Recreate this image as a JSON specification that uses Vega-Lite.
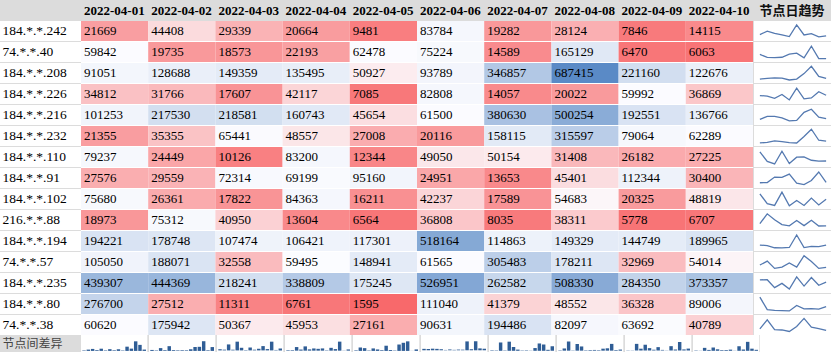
{
"$schema":"https://vega.github.io/schema/vega-lite/v6.json",
"background":"#dcdcdc",
"padding":0,
"spacing":0,
"config":{"view":{"stroke":null},"axis":{"disable":true},"legend":{"disable":true},"concat":{"spacing":0}},
"datasets":{
"captions":[{"part":"trend","label":"节点日趋势"},{"part":"gap","label":"节点间差异"}],
"cells":[
{"node":"184.*.*.242","date":"2022-04-01","value":21669},{"node":"184.*.*.242","date":"2022-04-02","value":44408},{"node":"184.*.*.242","date":"2022-04-03","value":29339},{"node":"184.*.*.242","date":"2022-04-04","value":20664},{"node":"184.*.*.242","date":"2022-04-05","value":9481},{"node":"184.*.*.242","date":"2022-04-06","value":83784},{"node":"184.*.*.242","date":"2022-04-07","value":19282},{"node":"184.*.*.242","date":"2022-04-08","value":28124},{"node":"184.*.*.242","date":"2022-04-09","value":7846},{"node":"184.*.*.242","date":"2022-04-10","value":14115},
{"node":"74.*.*.40","date":"2022-04-01","value":59842},{"node":"74.*.*.40","date":"2022-04-02","value":19735},{"node":"74.*.*.40","date":"2022-04-03","value":18573},{"node":"74.*.*.40","date":"2022-04-04","value":22193},{"node":"74.*.*.40","date":"2022-04-05","value":62478},{"node":"74.*.*.40","date":"2022-04-06","value":75224},{"node":"74.*.*.40","date":"2022-04-07","value":14589},{"node":"74.*.*.40","date":"2022-04-08","value":165129},{"node":"74.*.*.40","date":"2022-04-09","value":6470},{"node":"74.*.*.40","date":"2022-04-10","value":6063},
{"node":"184.*.*.208","date":"2022-04-01","value":91051},{"node":"184.*.*.208","date":"2022-04-02","value":128688},{"node":"184.*.*.208","date":"2022-04-03","value":149359},{"node":"184.*.*.208","date":"2022-04-04","value":135495},{"node":"184.*.*.208","date":"2022-04-05","value":50927},{"node":"184.*.*.208","date":"2022-04-06","value":93789},{"node":"184.*.*.208","date":"2022-04-07","value":346857},{"node":"184.*.*.208","date":"2022-04-08","value":687415},{"node":"184.*.*.208","date":"2022-04-09","value":221160},{"node":"184.*.*.208","date":"2022-04-10","value":122676},
{"node":"184.*.*.226","date":"2022-04-01","value":34812},{"node":"184.*.*.226","date":"2022-04-02","value":31766},{"node":"184.*.*.226","date":"2022-04-03","value":17607},{"node":"184.*.*.226","date":"2022-04-04","value":42117},{"node":"184.*.*.226","date":"2022-04-05","value":7085},{"node":"184.*.*.226","date":"2022-04-06","value":82808},{"node":"184.*.*.226","date":"2022-04-07","value":14057},{"node":"184.*.*.226","date":"2022-04-08","value":20022},{"node":"184.*.*.226","date":"2022-04-09","value":59992},{"node":"184.*.*.226","date":"2022-04-10","value":36869},
{"node":"184.*.*.216","date":"2022-04-01","value":101253},{"node":"184.*.*.216","date":"2022-04-02","value":217530},{"node":"184.*.*.216","date":"2022-04-03","value":218581},{"node":"184.*.*.216","date":"2022-04-04","value":160743},{"node":"184.*.*.216","date":"2022-04-05","value":45654},{"node":"184.*.*.216","date":"2022-04-06","value":61500},{"node":"184.*.*.216","date":"2022-04-07","value":380630},{"node":"184.*.*.216","date":"2022-04-08","value":500254},{"node":"184.*.*.216","date":"2022-04-09","value":192551},{"node":"184.*.*.216","date":"2022-04-10","value":136766},
{"node":"184.*.*.232","date":"2022-04-01","value":21355},{"node":"184.*.*.232","date":"2022-04-02","value":35355},{"node":"184.*.*.232","date":"2022-04-03","value":65441},{"node":"184.*.*.232","date":"2022-04-04","value":48557},{"node":"184.*.*.232","date":"2022-04-05","value":27008},{"node":"184.*.*.232","date":"2022-04-06","value":20116},{"node":"184.*.*.232","date":"2022-04-07","value":158115},{"node":"184.*.*.232","date":"2022-04-08","value":315597},{"node":"184.*.*.232","date":"2022-04-09","value":79064},{"node":"184.*.*.232","date":"2022-04-10","value":62289},
{"node":"184.*.*.110","date":"2022-04-01","value":79237},{"node":"184.*.*.110","date":"2022-04-02","value":24449},{"node":"184.*.*.110","date":"2022-04-03","value":10126},{"node":"184.*.*.110","date":"2022-04-04","value":83200},{"node":"184.*.*.110","date":"2022-04-05","value":12344},{"node":"184.*.*.110","date":"2022-04-06","value":49050},{"node":"184.*.*.110","date":"2022-04-07","value":50154},{"node":"184.*.*.110","date":"2022-04-08","value":31408},{"node":"184.*.*.110","date":"2022-04-09","value":26182},{"node":"184.*.*.110","date":"2022-04-10","value":27225},
{"node":"184.*.*.91","date":"2022-04-01","value":27576},{"node":"184.*.*.91","date":"2022-04-02","value":29559},{"node":"184.*.*.91","date":"2022-04-03","value":72314},{"node":"184.*.*.91","date":"2022-04-04","value":69199},{"node":"184.*.*.91","date":"2022-04-05","value":95160},{"node":"184.*.*.91","date":"2022-04-06","value":24951},{"node":"184.*.*.91","date":"2022-04-07","value":13653},{"node":"184.*.*.91","date":"2022-04-08","value":45401},{"node":"184.*.*.91","date":"2022-04-09","value":112344},{"node":"184.*.*.91","date":"2022-04-10","value":30400},
{"node":"184.*.*.102","date":"2022-04-01","value":75680},{"node":"184.*.*.102","date":"2022-04-02","value":26361},{"node":"184.*.*.102","date":"2022-04-03","value":17822},{"node":"184.*.*.102","date":"2022-04-04","value":84363},{"node":"184.*.*.102","date":"2022-04-05","value":16211},{"node":"184.*.*.102","date":"2022-04-06","value":42237},{"node":"184.*.*.102","date":"2022-04-07","value":17589},{"node":"184.*.*.102","date":"2022-04-08","value":54683},{"node":"184.*.*.102","date":"2022-04-09","value":20325},{"node":"184.*.*.102","date":"2022-04-10","value":48819},
{"node":"216.*.*.88","date":"2022-04-01","value":18973},{"node":"216.*.*.88","date":"2022-04-02","value":75312},{"node":"216.*.*.88","date":"2022-04-03","value":40950},{"node":"216.*.*.88","date":"2022-04-04","value":13604},{"node":"216.*.*.88","date":"2022-04-05","value":6564},{"node":"216.*.*.88","date":"2022-04-06","value":36808},{"node":"216.*.*.88","date":"2022-04-07","value":8035},{"node":"216.*.*.88","date":"2022-04-08","value":38311},{"node":"216.*.*.88","date":"2022-04-09","value":5778},{"node":"216.*.*.88","date":"2022-04-10","value":6707},
{"node":"184.*.*.194","date":"2022-04-01","value":194221},{"node":"184.*.*.194","date":"2022-04-02","value":178748},{"node":"184.*.*.194","date":"2022-04-03","value":107474},{"node":"184.*.*.194","date":"2022-04-04","value":106421},{"node":"184.*.*.194","date":"2022-04-05","value":117301},{"node":"184.*.*.194","date":"2022-04-06","value":518164},{"node":"184.*.*.194","date":"2022-04-07","value":114863},{"node":"184.*.*.194","date":"2022-04-08","value":149329},{"node":"184.*.*.194","date":"2022-04-09","value":144749},{"node":"184.*.*.194","date":"2022-04-10","value":189965},
{"node":"74.*.*.57","date":"2022-04-01","value":105050},{"node":"74.*.*.57","date":"2022-04-02","value":188071},{"node":"74.*.*.57","date":"2022-04-03","value":32558},{"node":"74.*.*.57","date":"2022-04-04","value":59495},{"node":"74.*.*.57","date":"2022-04-05","value":148941},{"node":"74.*.*.57","date":"2022-04-06","value":61565},{"node":"74.*.*.57","date":"2022-04-07","value":305483},{"node":"74.*.*.57","date":"2022-04-08","value":178211},{"node":"74.*.*.57","date":"2022-04-09","value":32969},{"node":"74.*.*.57","date":"2022-04-10","value":54014},
{"node":"184.*.*.235","date":"2022-04-01","value":439307},{"node":"184.*.*.235","date":"2022-04-02","value":444369},{"node":"184.*.*.235","date":"2022-04-03","value":218241},{"node":"184.*.*.235","date":"2022-04-04","value":338809},{"node":"184.*.*.235","date":"2022-04-05","value":175245},{"node":"184.*.*.235","date":"2022-04-06","value":526951},{"node":"184.*.*.235","date":"2022-04-07","value":262582},{"node":"184.*.*.235","date":"2022-04-08","value":508330},{"node":"184.*.*.235","date":"2022-04-09","value":284350},{"node":"184.*.*.235","date":"2022-04-10","value":373357},
{"node":"184.*.*.80","date":"2022-04-01","value":276700},{"node":"184.*.*.80","date":"2022-04-02","value":27512},{"node":"184.*.*.80","date":"2022-04-03","value":11311},{"node":"184.*.*.80","date":"2022-04-04","value":6761},{"node":"184.*.*.80","date":"2022-04-05","value":1595},{"node":"184.*.*.80","date":"2022-04-06","value":111040},{"node":"184.*.*.80","date":"2022-04-07","value":41379},{"node":"184.*.*.80","date":"2022-04-08","value":48552},{"node":"184.*.*.80","date":"2022-04-09","value":36328},{"node":"184.*.*.80","date":"2022-04-10","value":89006},
{"node":"74.*.*.38","date":"2022-04-01","value":60620},{"node":"74.*.*.38","date":"2022-04-02","value":175942},{"node":"74.*.*.38","date":"2022-04-03","value":50367},{"node":"74.*.*.38","date":"2022-04-04","value":45953},{"node":"74.*.*.38","date":"2022-04-05","value":27161},{"node":"74.*.*.38","date":"2022-04-06","value":90631},{"node":"74.*.*.38","date":"2022-04-07","value":194486},{"node":"74.*.*.38","date":"2022-04-08","value":82097},{"node":"74.*.*.38","date":"2022-04-09","value":63692},{"node":"74.*.*.38","date":"2022-04-10","value":40789}
]},
"vconcat":[
{"spacing":0,"hconcat":[
 {"width":81,"height":21,"data":{"values":[{}]},"mark":{"type":"text","text":""}},
 {"width":672,"height":21,"data":{"name":"cells"},"transform":[{"filter":"datum.node === '184.*.*.242'"}],
  "mark":{"type":"text","align":"left","baseline":"middle","dx":3,"font":"Liberation Serif","fontSize":13,"fontWeight":"bold","color":"#000000"},
  "encoding":{"x":{"field":"date","type":"ordinal","bandPosition":0,"scale":{"type":"band","paddingInner":0,"paddingOuter":0},"axis":null},"text":{"field":"date","type":"nominal"}}},
 {"width":78,"height":21,"data":{"name":"captions"},"transform":[{"filter":"datum.part === 'trend'"}],
  "mark":{"type":"text","baseline":"middle","font":"Noto Sans CJK SC","fontSize":13,"fontWeight":"bold","color":"#111111"},
  "encoding":{"text":{"field":"label","type":"nominal"}}}
]},
{"spacing":0,"hconcat":[
 {"width":81,"height":314,"data":{"name":"cells"},"transform":[{"filter":"datum.date === '2022-04-01'"}],
  "encoding":{"y":{"field":"node","type":"nominal","sort":null,"scale":{"type":"band","paddingInner":0.0476,"paddingOuter":0},"axis":null}},
  "layer":[
   {"mark":{"type":"rect","color":"#ffffff"}},
   {"mark":{"type":"text","align":"left","baseline":"middle","dx":-38,"font":"Liberation Serif","fontSize":13.5,"color":"#000000"},"encoding":{"text":{"field":"node","type":"nominal"}}}
  ]},
 {"width":672,"height":314,"view":{"fill":"#ffffff"},"data":{"name":"cells"},
  "encoding":{
   "x":{"field":"date","type":"ordinal","scale":{"type":"band","paddingInner":0,"paddingOuter":0},"axis":null},
   "y":{"field":"node","type":"nominal","sort":null,"scale":{"type":"band","paddingInner":0.0476,"paddingOuter":0},"axis":null}},
  "layer":[
   {"mark":{"type":"rect"},"encoding":{"color":{"field":"value","type":"quantitative","legend":null,"scale":{"type":"linear","domain":[1595,57000,687415],"range":["#F8696B","#FCFCFF","#5A8AC6"],"interpolate":"rgb"}}}},
   {"mark":{"type":"text","align":"left","baseline":"middle","dx":3,"font":"Liberation Serif","fontSize":13,"color":"#000000"},
    "encoding":{"x":{"field":"date","type":"ordinal","bandPosition":0,"scale":{"type":"band","paddingInner":0,"paddingOuter":0},"axis":null},"text":{"field":"value","type":"quantitative","format":"d"}}}
  ]},
 {"data":{"name":"cells"},"spacing":{"row":1},
  "facet":{"row":{"field":"node","type":"nominal","header":null,"title":null,"sort":["184.*.*.242","74.*.*.40","184.*.*.208","184.*.*.226","184.*.*.216","184.*.*.232","184.*.*.110","184.*.*.91","184.*.*.102","216.*.*.88","184.*.*.194","74.*.*.57","184.*.*.235","184.*.*.80","74.*.*.38"]}},
  "resolve":{"scale":{"y":"independent"}},
  "spec":{"width":78,"height":20,"view":{"fill":"#ffffff"},
   "mark":{"type":"line","color":"#5479b0","strokeWidth":1.3},
   "encoding":{"x":{"field":"date","type":"ordinal","scale":{"type":"point","padding":0.8},"axis":null},
    "y":{"field":"value","type":"quantitative","scale":{"zero":false,"range":[17,3]},"axis":null}}}}
]},
{"spacing":0,"hconcat":[
 {"width":81,"height":17,"data":{"name":"captions"},"transform":[{"filter":"datum.part === 'gap'"}],
  "mark":{"type":"text","align":"left","baseline":"middle","dx":-38,"font":"Noto Sans CJK SC","fontSize":12,"color":"#444444"},
  "encoding":{"text":{"field":"label","type":"nominal"}}},
 {"data":{"name":"cells"},"spacing":{"column":1},
  "facet":{"column":{"field":"date","type":"ordinal","header":null,"title":null}},
  "resolve":{"scale":{"y":"independent"}},
  "spec":{"width":66.3,"height":17,"view":{"fill":"#ffffff"},
   "mark":{"type":"bar","color":"#2f5d95"},
   "encoding":{"x":{"field":"node","type":"nominal","sort":["184.*.*.242","74.*.*.40","184.*.*.208","184.*.*.226","184.*.*.216","184.*.*.232","184.*.*.110","184.*.*.91","184.*.*.102","216.*.*.88","184.*.*.194","74.*.*.57","184.*.*.235","184.*.*.80","74.*.*.38"],"scale":{"type":"band","paddingInner":0.2,"paddingOuter":0.3},"axis":null},
    "y":{"field":"value","type":"quantitative","scale":{"zero":false,"padding":1,"range":[17,5]},"axis":null}}}},
 {"width":78,"height":17,"view":{"fill":"#ffffff"},"data":{"values":[{}]},"mark":{"type":"text","text":""}}
]}
]
}
